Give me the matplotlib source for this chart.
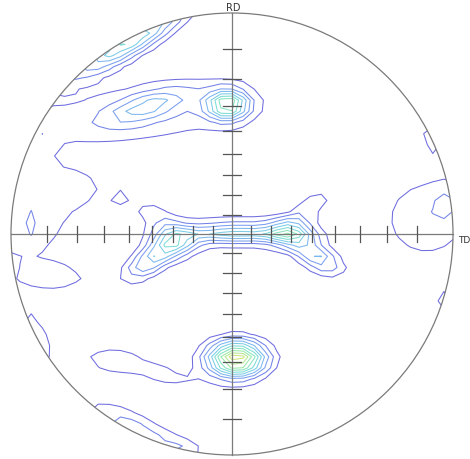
import numpy as np
import matplotlib
matplotlib.use("Agg")
import matplotlib.pyplot as plt
from matplotlib.patches import Circle

# ---------------- data ----------------
axis_labels = ["RD", "TD"]
tick_angles_deg = [10, 20, 30, 40, 50, 60, 70, 80]

# intensity components of the pole figure (normalised projection coords)
peak_u     = [0.02, -0.02, -0.38, -0.38, -0.47, 0.02, -0.26, 0.26, -0.37, 0.38, -0.34, 0.35, -0.51,
              -0.95, -0.72, -0.80, -0.91, 0.88, 0.98, 0.90, 0.95, -0.55, -0.33, -0.88, -0.45, -0.22,
              -0.88]
peak_v     = [-0.565, 0.585, 0.58, 0.55, 0.87, 0.005, -0.04, 0.005, -0.12, -0.10, 0.08, 0.12, 0.17,
              0.10, 0.21, -0.20, 0.03, 0.07, 0.15, 0.44, -0.30, -0.57, -0.63, -0.47, -0.88, -0.97,
              0.42]
peak_su    = [0.090, 0.065, 0.14, 0.36, 0.20, 0.19, 0.07, 0.07, 0.09, 0.09, 0.08, 0.09, 0.035,
              0.20, 0.12, 0.12, 0.06, 0.15, 0.05, 0.08, 0.05, 0.09, 0.14, 0.12, 0.16, 0.08,
              0.08]
peak_sv    = [0.055, 0.045, 0.04, 0.10, 0.045, 0.033, 0.045, 0.04, 0.04, 0.04, 0.035, 0.035, 0.025,
              0.20, 0.06, 0.045, 0.025, 0.14, 0.06, 0.03, 0.03, 0.04, 0.035, 0.04, 0.05, 0.04,
              0.05]
peak_angle = [0, 0, 18, 6, 30, 0, 0, 0, 33, -30, -28, 36, 0,
              0, 0, 0, 90, 0, 0, 114, 100, 0, -15, -63, -26, -10,
              60]
peak_amp   = [5.6, 3.9, 1.5, 1.0, 3.2, 3.0, 2.3, 2.3, 2.3, 2.2, 1.0, 1.0, 0.75,
              0.85, 0.55, 0.7, 0.4, 0.95, 0.6, 0.9, 0.8, 0.85, 0.85, 0.9, 1.4, 0.7,
              0.6]
baseline = 0.45

levels = [1.0, 1.5, 2.0, 2.5, 3.0, 3.5, 4.0, 4.5, 5.0, 5.5, 6.0]
level_colors = ['#6e6cdf', '#7283e8', '#7a9eef', '#7cb7ef', '#7bcde6', '#7edcd6',
                '#88e4c0', '#9ae8a8', '#b4e892', '#cee680', '#e2e070']

# ---------------- figure ----------------
W, H = 470, 460
cx, cy, R = 232.0, 235.0, 221.0
fig = plt.figure(figsize=(W / 100, H / 100), dpi=100)
ax = fig.add_axes([0, 0, 1, 1])
ax.set_xlim(-cx / R, (W - cx) / R)
ax.set_ylim((cy - H) / R, cy / R)
ax.axis('off')

# field on a coarse grid (gives the polygonal contours of the original)
g = np.linspace(-1.06, 1.06, 43)
X, Y = np.meshgrid(g, g)
Z = np.full_like(X, baseline)
for u, v, su, sv, a, A in zip(peak_u, peak_v, peak_su, peak_sv, peak_angle, peak_amp):
    t = np.deg2rad(a)
    dx, dy = X - u, Y - v
    xr = dx * np.cos(t) + dy * np.sin(t)
    yr = -dx * np.sin(t) + dy * np.cos(t)
    Z += A * np.exp(-0.5 * (xr ** 2 / su ** 2 + yr ** 2 / sv ** 2))

cs = ax.contour(X, Y, Z, levels=levels, colors=level_colors, linewidths=0.75)
clip = Circle((0, 0), 1.0, transform=ax.transData, facecolor='none', edgecolor='none')
ax.add_patch(clip)
cs.set_clip_path(clip)

# projection circle and axes
ax.add_patch(Circle((0, 0), 1.0, facecolor='none', edgecolor='#7a7a7a', lw=0.9, zorder=3))
ax.plot([-1, 1], [0, 0], color='#7a7a7a', lw=0.9, zorder=3)
ax.plot([0, 0], [-1, 1], color='#7a7a7a', lw=0.9, zorder=3)

# stereographic ticks every 10 degrees
for ang in tick_angles_deg:
    r = np.tan(np.deg2rad(ang) / 2)
    for s in (-1, 1):
        ax.plot([s * r, s * r], [-0.037, 0.037], color='#555555', lw=0.9, zorder=4)
        ax.plot([-0.04, 0.04], [s * r, s * r], color='#555555', lw=0.9, zorder=4)

ax.text(0.005, 1.028, axis_labels[0], ha='center', va='center', fontsize=7, color='#333333')
ax.text(1.025, -0.027, axis_labels[1], ha='left', va='center', fontsize=6.5, color='#333333')

fig.savefig('out.png', dpi=100, facecolor='white')
